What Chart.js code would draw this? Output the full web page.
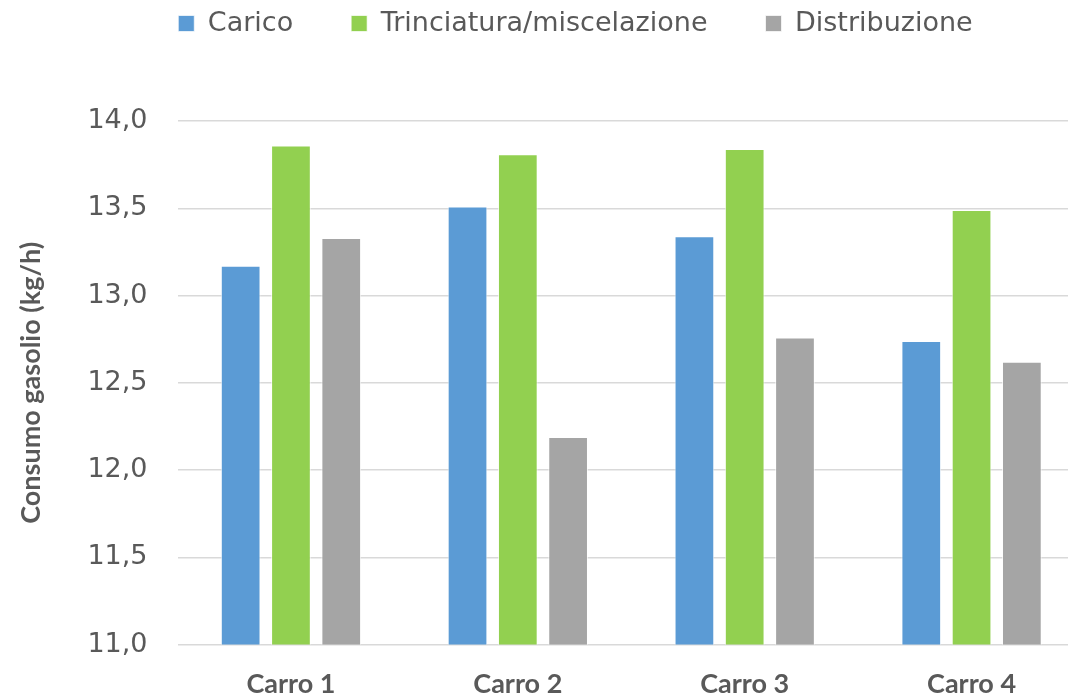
<!DOCTYPE html>
<html lang="it">
<head>
<meta charset="UTF-8" />
<title>Consumo gasolio</title>
<script src="https://cdn.jsdelivr.net/npm/chart.js"></script>
<style>
  * { margin: 0; padding: 0; box-sizing: border-box; }
  body { background: #ffffff; overflow: hidden; width: 1068px; height: 698px; }
  canvas { display: block; }
</style>
</head>
<body>
<canvas id="chart" width="1151" height="698"></canvas>
<script>
  // data
  const categories = ['Carro 1', 'Carro 2', 'Carro 3', 'Carro 4'];
  const carico = [13.17, 13.51, 13.34, 12.74];
  const trinciatura = [13.86, 13.81, 13.84, 13.49];
  const distribuzione = [13.33, 12.19, 12.76, 12.62];
  const yTickLabels = ['11,0', '11,5', '12,0', '12,5', '13,0', '13,5', '14,0'];

  const textGrey = '#595959';

  // push the plot down below the legend
  const legendGap = {
    id: 'legendGap',
    beforeInit(chart) {
      const fit = chart.legend.fit;
      chart.legend.fit = function () {
        fit.bind(chart.legend)();
        this.height = 169;
      };
    }
  };

  new Chart(document.getElementById('chart'), {
    type: 'bar',
    data: {
      labels: categories,
      datasets: [
        { label: 'Carico', data: carico, backgroundColor: '#5B9BD5' },
        { label: 'Trinciatura/miscelazione', data: trinciatura, backgroundColor: '#92D050' },
        { label: 'Distribuzione', data: distribuzione, backgroundColor: '#A5A5A5' }
      ]
    },
    options: {
      responsive: false,
      animation: false,
      devicePixelRatio: 1,
      layout: { padding: { top: -48, left: 0, right: 0, bottom: -17 } },
      datasets: {
        bar: {
          categoryPercentage: 0.665,
          barPercentage: 0.79,
          borderColor: 'rgba(255,255,255,0.7)',
          borderWidth: 1
        }
      },
      plugins: {
        legend: {
          position: 'top',
          labels: {
            color: textGrey,
            font: { family: 'DejaVu Sans', size: 27 },
            boxWidth: 16,
            boxHeight: 16,
            padding: 58
          }
        },
        tooltip: { enabled: false }
      },
      scales: {
        x: {
          grid: { display: false },
          border: { display: false },
          ticks: {
            color: textGrey,
            font: { family: 'Lato', size: 27, weight: 'bold' },
            padding: 15,
            maxRotation: 0
          }
        },
        y: {
          min: 11,
          max: 14,
          border: { display: false },
          grid: { color: '#d9d9d9', lineWidth: 1.5, drawTicks: false },
          ticks: {
            stepSize: 0.5,
            color: textGrey,
            font: { family: 'DejaVu Sans', size: 27 },
            padding: 30,
            callback: (v, i) => yTickLabels[i]
          },
          title: {
            display: true,
            text: 'Consumo gasolio (kg/h)',
            color: textGrey,
            font: { family: 'Lato', size: 27, weight: 'bold' },
            padding: { top: 15, bottom: 10 }
          }
        },
        yRight: {
          position: 'right',
          display: true,
          grid: { display: false },
          border: { display: false },
          ticks: { display: false },
          afterFit(scale) { scale.width = 66; }
        }
      }
    },
    plugins: [legendGap]
  });
</script>
</body>
</html>
